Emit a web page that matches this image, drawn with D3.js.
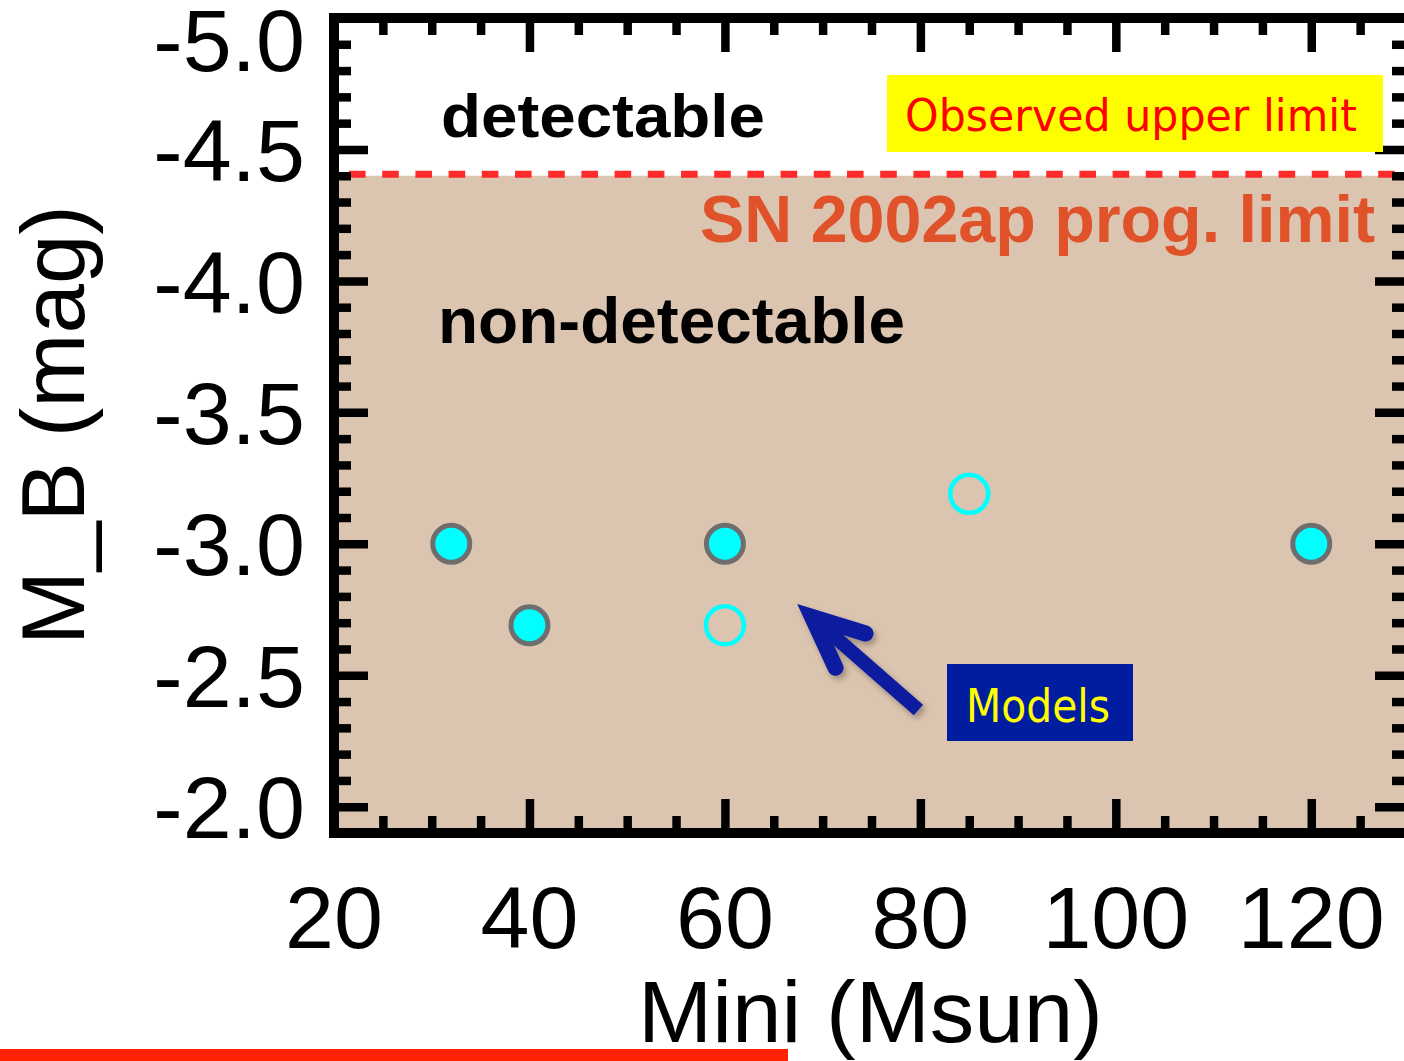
<!DOCTYPE html>
<html>
<head>
<meta charset="utf-8">
<script src="https://cdn.jsdelivr.net/npm/d3@7"></script>
<style>
  html, body { margin: 0; padding: 0; background: #fff; overflow: hidden; }
  text { font-family: "Liberation Sans", Arial, Helvetica, sans-serif; }
</style>
</head>
<body>
<svg id="chart" width="1404" height="1061"></svg>
<script>
// Progenitor models: initial mass (Msun) and absolute B magnitude
const massFilled = [32, 40, 60, 120];
const magFilled  = [-3.0, -2.69, -3.0, -3.0];
const massOpen   = [60, 85];
const magOpen    = [-2.69, -3.19];

// SN 2002ap progenitor detection limit (mag)
const progLimit = -4.4;

// Axis extents and labelled ticks
const xDomain = [20, 130];
const yDomain = [-5.0, -1.9];
const xTickLabels = [20, 40, 60, 80, 100, 120];
const yTickLabels = [-5.0, -4.5, -4.0, -3.5, -3.0, -2.5, -2.0];

// Arrow pointing at the models (tail -> tip, data units)
const arrowMass = [79.8, 67.4];
const arrowMag  = [-2.368, -2.771];

const svg = d3.select("#chart");
const pLeft = 334, pRight = 1409, pTop = 18, pBottom = 833;

const x = d3.scaleLinear().domain(xDomain).range([pLeft, pRight]);
const y = d3.scaleLinear().domain(yDomain).range([pTop, pBottom]);

const defs = svg.append("defs");
const shadow = defs.append("filter").attr("id", "shadow")
  .attr("x", "-20%").attr("y", "-20%").attr("width", "140%").attr("height", "140%");
shadow.append("feDropShadow").attr("dx", 3).attr("dy", 4)
  .attr("stdDeviation", 3).attr("flood-color", "#000").attr("flood-opacity", 0.3);

// Non-detectable region below the progenitor limit
svg.append("rect")
  .attr("x", pLeft).attr("y", y(progLimit))
  .attr("width", pRight - pLeft).attr("height", y(yDomain[1]) - y(progLimit))
  .attr("fill", "#dcc5b0");

// Limit line
svg.append("line")
  .attr("x1", pLeft).attr("x2", pRight)
  .attr("y1", y(progLimit) - 1.5).attr("y2", y(progLimit) - 1.5)
  .attr("stroke", "#ff2a2a").attr("stroke-width", 7)
  .attr("stroke-dasharray", "16.6,16.6").attr("stroke-dashoffset", 18.2);

// Model points
const pts = svg.append("g");
pts.selectAll("circle.filled")
  .data(d3.zip(massFilled, magFilled))
  .join("circle").attr("class", "filled")
  .attr("cx", d => x(d[0])).attr("cy", d => y(d[1])).attr("r", 18.5)
  .attr("fill", "#00ffff").attr("stroke", "#6e6e6e").attr("stroke-width", 5);
pts.selectAll("circle.open")
  .data(d3.zip(massOpen, magOpen))
  .join("circle").attr("class", "open")
  .attr("cx", d => x(d[0])).attr("cy", d => y(d[1])).attr("r", 19)
  .attr("fill", "none").attr("stroke", "#00ffff").attr("stroke-width", 4.5);

// Tick marks on all four sides (inward)
const xMinor = d3.range(20, 130.01, 5).filter(v => v % 20 !== 0);
const xMajor = d3.range(20, 130.01, 20);
const yAll = d3.range(0, 32).map(i => +(-5.0 + i * 0.1).toFixed(1));
const yMajor = yAll.filter(v => Math.abs(v * 2 - Math.round(v * 2)) < 1e-6);
const yMinor = yAll.filter(v => !yMajor.includes(v));
const majLen = 34, minLen = 17;

function tickAxis(axis, tx, ty) {
  const g = svg.append("g").attr("transform", `translate(${tx},${ty})`).call(axis);
  g.select(".domain").remove();
  g.selectAll("text").remove();
  g.selectAll("line").attr("stroke", "#000").attr("stroke-width", 8.5);
}
tickAxis(d3.axisBottom(x).tickValues(xMajor).tickSize(-majLen), 0, pBottom);
tickAxis(d3.axisBottom(x).tickValues(xMinor).tickSize(-minLen), 0, pBottom);
tickAxis(d3.axisTop(x).tickValues(xMajor).tickSize(-majLen), 0, pTop);
tickAxis(d3.axisTop(x).tickValues(xMinor).tickSize(-minLen), 0, pTop);
tickAxis(d3.axisLeft(y).tickValues(yMajor).tickSize(-majLen), pLeft, 0);
tickAxis(d3.axisLeft(y).tickValues(yMinor).tickSize(-minLen), pLeft, 0);
tickAxis(d3.axisRight(y).tickValues(yMajor).tickSize(-majLen), pRight, 0);
tickAxis(d3.axisRight(y).tickValues(yMinor).tickSize(-minLen), pRight, 0);

// Frame
svg.append("rect")
  .attr("x", pLeft).attr("y", pTop)
  .attr("width", pRight - pLeft).attr("height", pBottom - pTop)
  .attr("fill", "none").attr("stroke", "#000").attr("stroke-width", 10);

// Tick labels
svg.append("g").selectAll("text")
  .data(yTickLabels).join("text")
  .attr("x", 305).attr("y", d => Math.max(y(d), 39)).attr("dy", "0.36em")
  .attr("text-anchor", "end").attr("font-size", 88).attr("fill", "#000")
  .text(d => d3.format(".1f")(d).replace("−", "-"));

svg.append("g").selectAll("text")
  .data(xTickLabels).join("text")
  .attr("x", d => x(d)).attr("y", 948)
  .attr("text-anchor", "middle").attr("font-size", 88).attr("fill", "#000")
  .text(d => d);

// Axis titles
svg.append("text")
  .attr("x", 638).attr("y", 1042)
  .attr("font-size", 88).attr("fill", "#000")
  .attr("textLength", 465).attr("lengthAdjust", "spacingAndGlyphs")
  .text("Mini (Msun)");
svg.append("text")
  .attr("transform", "translate(84,645) rotate(-90)")
  .attr("font-size", 89).attr("fill", "#000")
  .attr("textLength", 440).attr("lengthAdjust", "spacingAndGlyphs")
  .text("M_B (mag)");

// Region labels
svg.append("text")
  .attr("x", 441).attr("y", 137).attr("font-size", 62).attr("font-weight", "bold")
  .attr("textLength", 324).attr("lengthAdjust", "spacingAndGlyphs")
  .attr("fill", "#000").text("detectable");
svg.append("text")
  .attr("x", 438).attr("y", 343).attr("font-size", 64).attr("font-weight", "bold")
  .attr("textLength", 467).attr("lengthAdjust", "spacingAndGlyphs")
  .attr("fill", "#000").text("non-detectable");
svg.append("text")
  .attr("x", 700).attr("y", 242).attr("font-size", 66).attr("font-weight", "bold")
  .attr("textLength", 675).attr("lengthAdjust", "spacingAndGlyphs")
  .attr("fill", "#e0522a").text("SN 2002ap prog. limit");

// Observed upper limit tag
svg.append("rect").attr("x", 887).attr("y", 75).attr("width", 496).attr("height", 77)
  .attr("fill", "#ffff00");
svg.append("text")
  .attr("x", 905).attr("y", 131)
  .style("font-family", "'DejaVu Sans', Verdana, sans-serif")
  .attr("font-size", 45).attr("textLength", 452).attr("lengthAdjust", "spacingAndGlyphs")
  .attr("fill", "#ff0000").text("Observed upper limit");

// Arrow towards the model points; the head's outer point sits on the tip
const tail = [x(arrowMass[0]), y(arrowMag[0])];
const tip = [x(arrowMass[1]), y(arrowMag[1])];
const ang = Math.atan2(tail[1] - tip[1], tail[0] - tip[0]);
const headW = 16, half = 24 * Math.PI / 180, headLen = 56;
const inset = (headW / 2) / Math.sin(half);
const vtx = [tip[0] + inset * Math.cos(ang), tip[1] + inset * Math.sin(ang)];
const w1 = [vtx[0] + headLen * Math.cos(ang - half), vtx[1] + headLen * Math.sin(ang - half)];
const w2 = [vtx[0] + headLen * Math.cos(ang + half), vtx[1] + headLen * Math.sin(ang + half)];
const arrow = svg.append("g").attr("filter", "url(#shadow)");
arrow.append("line")
  .attr("x1", tail[0]).attr("y1", tail[1]).attr("x2", vtx[0]).attr("y2", vtx[1])
  .attr("stroke", "#0a1e9f").attr("stroke-width", 14).attr("stroke-linecap", "butt");
arrow.append("path")
  .attr("d", d3.line()([w1, vtx, w2]))
  .attr("fill", "none").attr("stroke", "#0a1e9f").attr("stroke-width", headW)
  .attr("stroke-linecap", "round").attr("stroke-linejoin", "miter").attr("stroke-miterlimit", 6);

// Models tag
svg.append("rect").attr("x", 947).attr("y", 664).attr("width", 186).attr("height", 77)
  .attr("fill", "#001c9f");
svg.append("text")
  .attr("x", 966).attr("y", 722)
  .style("font-family", "'DejaVu Sans', Verdana, sans-serif")
  .attr("font-size", 47).attr("textLength", 144).attr("lengthAdjust", "spacingAndGlyphs")
  .attr("fill", "#ffff00").text("Models");

// Bottom accent bar
svg.append("rect").attr("x", 0).attr("y", 1049).attr("width", 788).attr("height", 12)
  .attr("fill", "#ff2200");
</script>
</body>
</html>
